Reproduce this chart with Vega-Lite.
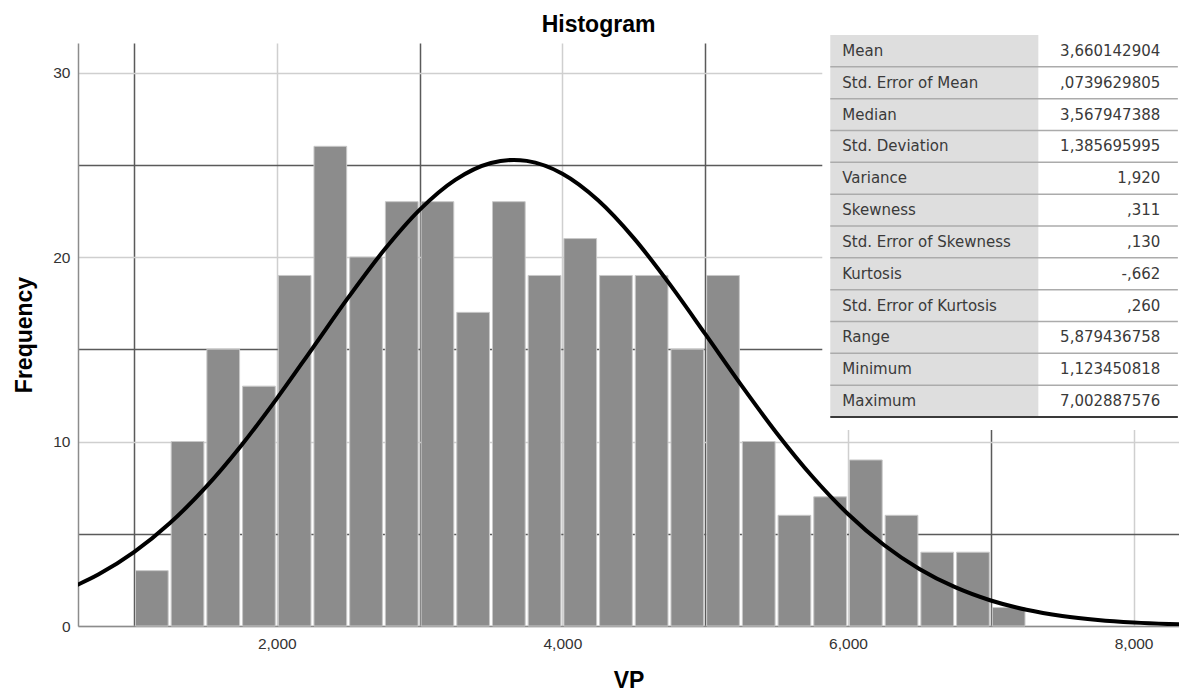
{
  "$schema": "https://vega.github.io/schema/vega-lite/v6.json",
  "width": 1101,
  "height": 583,
  "autosize": {"type": "none"},
  "padding": {"left": 78, "top": 43, "right": 0, "bottom": 67},
  "background": "white",
  "config": {"view": {"stroke": null}, "font": "Liberation Sans"},
  "title": {"text": "Histogram", "font": "Liberation Sans", "fontSize": 23, "fontWeight": "bold", "color": "#000000", "anchor": "middle", "dx": -30, "offset": -2},
  "datasets": {
    "bins": [
      {"start": 1.0, "end": 1.25, "count": 3},
      {"start": 1.25, "end": 1.5, "count": 10},
      {"start": 1.5, "end": 1.75, "count": 15},
      {"start": 1.75, "end": 2.0, "count": 13},
      {"start": 2.0, "end": 2.25, "count": 19},
      {"start": 2.25, "end": 2.5, "count": 26},
      {"start": 2.5, "end": 2.75, "count": 20},
      {"start": 2.75, "end": 3.0, "count": 23},
      {"start": 3.0, "end": 3.25, "count": 23},
      {"start": 3.25, "end": 3.5, "count": 17},
      {"start": 3.5, "end": 3.75, "count": 23},
      {"start": 3.75, "end": 4.0, "count": 19},
      {"start": 4.0, "end": 4.25, "count": 21},
      {"start": 4.25, "end": 4.5, "count": 19},
      {"start": 4.5, "end": 4.75, "count": 19},
      {"start": 4.75, "end": 5.0, "count": 15},
      {"start": 5.0, "end": 5.25, "count": 19},
      {"start": 5.25, "end": 5.5, "count": 10},
      {"start": 5.5, "end": 5.75, "count": 6},
      {"start": 5.75, "end": 6.0, "count": 7},
      {"start": 6.0, "end": 6.25, "count": 9},
      {"start": 6.25, "end": 6.5, "count": 6},
      {"start": 6.5, "end": 6.75, "count": 4},
      {"start": 6.75, "end": 7.0, "count": 4},
      {"start": 7.0, "end": 7.25, "count": 1}
    ],
    "curve": [
      {"x": 0.5, "y": 1.876}, {"x": 0.75, "y": 2.785}, {"x": 1.0, "y": 4.001}, {"x": 1.25, "y": 5.567},
      {"x": 1.5, "y": 7.496}, {"x": 1.75, "y": 9.769}, {"x": 2.0, "y": 12.325}, {"x": 2.25, "y": 15.053},
      {"x": 2.5, "y": 17.795}, {"x": 2.75, "y": 20.361}, {"x": 3.0, "y": 22.553}, {"x": 3.25, "y": 24.18},
      {"x": 3.5, "y": 25.095}, {"x": 3.66, "y": 25.263}, {"x": 3.75, "y": 25.21}, {"x": 4.0, "y": 24.514},
      {"x": 4.25, "y": 23.075}, {"x": 4.5, "y": 21.024}, {"x": 4.75, "y": 18.542}, {"x": 5.0, "y": 15.83},
      {"x": 5.25, "y": 13.081}, {"x": 5.5, "y": 10.463}, {"x": 5.75, "y": 8.101}, {"x": 6.0, "y": 6.072},
      {"x": 6.25, "y": 4.405}, {"x": 6.5, "y": 3.093}, {"x": 6.75, "y": 2.103}, {"x": 7.0, "y": 1.383},
      {"x": 7.25, "y": 0.881}, {"x": 7.5, "y": 0.543}, {"x": 7.75, "y": 0.324}, {"x": 8.0, "y": 0.187},
      {"x": 8.25, "y": 0.105}, {"x": 8.5, "y": 0.057}
    ],
    "stats": [
      {"stat": "Mean", "value": "3,660142904"},
      {"stat": "Std. Error of Mean", "value": ",0739629805"},
      {"stat": "Median", "value": "3,567947388"},
      {"stat": "Std. Deviation", "value": "1,385695995"},
      {"stat": "Variance", "value": "1,920"},
      {"stat": "Skewness", "value": ",311"},
      {"stat": "Std. Error of Skewness", "value": ",130"},
      {"stat": "Kurtosis", "value": "-,662"},
      {"stat": "Std. Error of Kurtosis", "value": ",260"},
      {"stat": "Range", "value": "5,879436758"},
      {"stat": "Minimum", "value": "1,123450818"},
      {"stat": "Maximum", "value": "7,002887576"}
    ]
  },
  "layer": [
    {
      "layer": [
        {
          "data": {"values": [{}]},
          "mark": {"type": "rect", "fill": "#ffffff"},
          "encoding": {
            "x": {"datum": 5.82, "type": "quantitative", "scale": {"domain": [0.608, 8.318], "nice": false, "zero": false},
              "axis": {
                "title": "VP",
                "values": [1, 2, 3, 4, 5, 6, 7, 8],
                "labelExpr": "datum.value % 2 === 0 ? replace(format(datum.value, '.3f'), '.', ',') : ''",
                "grid": true,
                "gridColor": {"condition": {"test": "datum.value % 2 === 1", "value": "#5a5a5a"}, "value": "#cfcfcf"},
                "gridWidth": 1.5,
                "ticks": false,
                "domainColor": "#8c8c8c",
                "domainWidth": 1.5,
                "labelFont": "Liberation Sans",
                "labelFontSize": 15.5,
                "labelColor": "#333333",
                "labelPadding": 10,
                "labelFlush": false,
                "labelOverlap": false,
                "titleFont": "Liberation Sans",
                "titleFontSize": 23,
                "titleFontWeight": "bold",
                "titleColor": "#000000",
                "titlePadding": 18
              }
            },
            "x2": {"datum": 8.5},
            "y": {"datum": 10.63, "type": "quantitative", "scale": {"domain": [0, 31.6], "nice": false, "zero": true},
              "axis": {
                "title": "Frequency",
                "values": [0, 5, 10, 15, 20, 25, 30],
                "labelExpr": "datum.value % 10 === 0 ? datum.label : ''",
                "grid": true,
                "gridColor": {"condition": {"test": "datum.value % 10 === 5", "value": "#5a5a5a"}, "value": "#cfcfcf"},
                "gridWidth": 1.5,
                "ticks": false,
                "domainColor": "#8c8c8c",
                "domainWidth": 1.5,
                "labelFont": "Liberation Sans",
                "labelFontSize": 15.5,
                "labelColor": "#333333",
                "labelPadding": 8,
                "titleFont": "Liberation Sans",
                "titleFontSize": 23,
                "titleFontWeight": "bold",
                "titleColor": "#000000",
                "titlePadding": 16
              }
            },
            "y2": {"datum": 31.6}
          }
        },
        {
          "data": {"name": "bins"},
          "mark": {"type": "rect", "fill": "#8c8c8c", "stroke": "#c8c8c8", "strokeWidth": 1, "xOffset": 1.5, "x2Offset": -1.5},
          "encoding": {
            "x": {"field": "start", "type": "quantitative"},
            "x2": {"field": "end"},
            "y": {"field": "count", "type": "quantitative"},
            "y2": {"datum": 0}
          }
        },
        {
          "data": {"name": "curve"},
          "mark": {"type": "line", "color": "#000000", "strokeWidth": 4, "interpolate": "monotone", "clip": true},
          "encoding": {
            "x": {"field": "x", "type": "quantitative"},
            "y": {"field": "y", "type": "quantitative"}
          }
        }
      ]
    },
    {
      "data": {"name": "stats"},
      "encoding": {
        "y": {"field": "stat", "type": "nominal", "sort": null, "scale": {"range": [-8, 374], "paddingInner": 0, "paddingOuter": 0}, "axis": null}
      },
      "layer": [
        {
          "mark": {"type": "rect", "fill": "#dedede"},
          "encoding": {
            "x": {"datum": 5.876, "type": "quantitative"},
            "x2": {"datum": 7.333}
          }
        },
        {
          "mark": {"type": "rule"},
          "encoding": {
            "x": {"datum": 5.876, "type": "quantitative"},
            "x2": {"datum": 8.31},
            "y": {"field": "stat", "type": "nominal", "sort": null, "bandPosition": 1},
            "color": {"condition": {"test": "datum.stat === 'Maximum'", "value": "#3a3a3a"}, "value": "#ababab"},
            "strokeWidth": {"condition": {"test": "datum.stat === 'Maximum'", "value": 2}, "value": 1.5}
          }
        },
        {
          "mark": {"type": "text", "align": "left", "baseline": "middle", "font": "DejaVu Sans", "fontSize": 15, "color": "#3a3a3a"},
          "encoding": {
            "x": {"datum": 5.96, "type": "quantitative"},
            "y": {"field": "stat", "type": "nominal", "sort": null, "bandPosition": 0.5},
            "text": {"field": "stat"}
          }
        },
        {
          "mark": {"type": "text", "align": "right", "baseline": "middle", "font": "DejaVu Sans", "fontSize": 15, "color": "#3a3a3a"},
          "encoding": {
            "x": {"datum": 8.187, "type": "quantitative"},
            "y": {"field": "stat", "type": "nominal", "sort": null, "bandPosition": 0.5},
            "text": {"field": "value"}
          }
        }
      ]
    }
  ],
  "resolve": {"scale": {"y": "independent"}}
}
